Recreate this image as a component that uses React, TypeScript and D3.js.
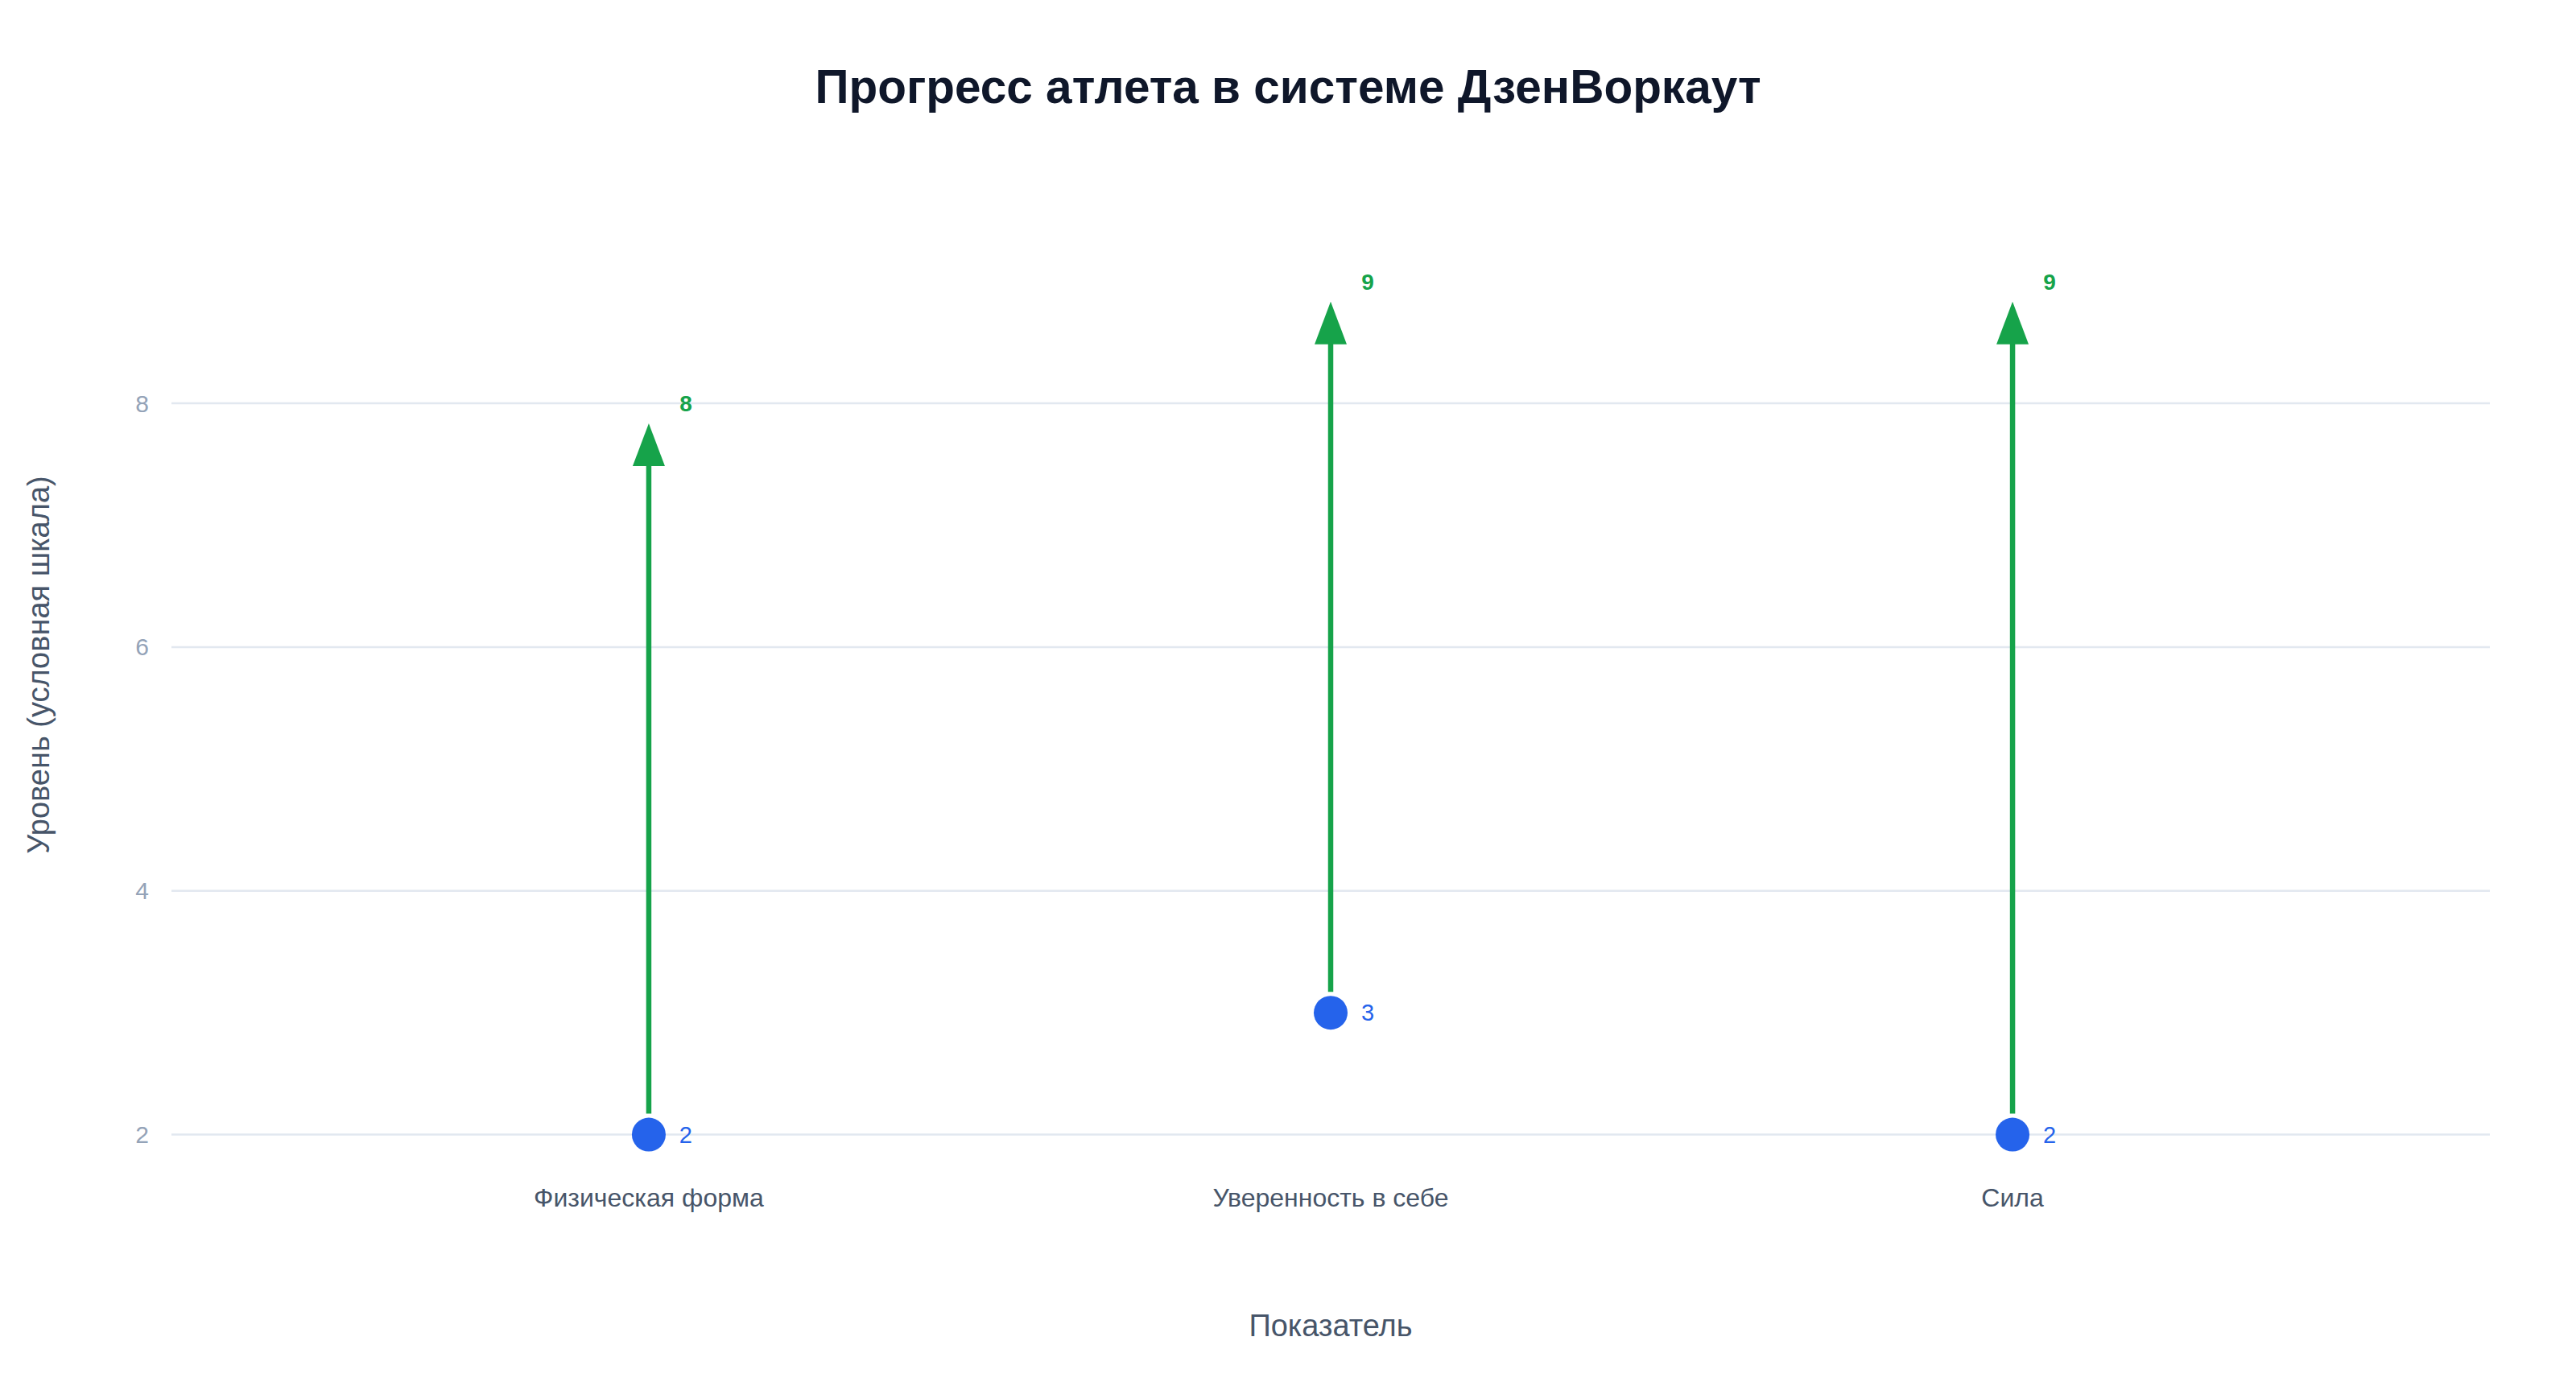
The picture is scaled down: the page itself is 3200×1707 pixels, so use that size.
import React, { useRef, useEffect } from 'react';
import * as d3 from 'd3';

// values
const categories = ['Физическая форма', 'Уверенность в себе', 'Сила'];
const startValues = [2, 3, 2];
const endValues = [8, 9, 9];
const yTicks = [2, 4, 6, 8];

const chartTitle = 'Прогресс атлета в системе ДзенВоркаут';
const xTitle = 'Показатель';
const yTitle = 'Уровень (условная шкала)';

const width = 3200;
const height = 1707;
const margin = { top: 274, bottom: 252, left: 213, right: 107 };
const font = '"Liberation Sans", Arial, sans-serif';

const App = () => {
  const svgRef = useRef(null);

  useEffect(() => {
    const svg = d3.select(svgRef.current);
    svg.selectAll('*').remove();

    const xScale = d3
      .scalePoint()
      .domain(categories)
      .range([margin.left, width - margin.right])
      .padding(0.7);

    const yScale = d3
      .scaleLinear()
      .domain([1.7, 9.5])
      .range([height - margin.bottom, margin.top]);

    // grid
    svg
      .append('g')
      .selectAll('line')
      .data(yTicks)
      .enter()
      .append('line')
      .attr('x1', margin.left)
      .attr('x2', width - margin.right)
      .attr('y1', (d) => yScale(d))
      .attr('y2', (d) => yScale(d))
      .attr('stroke', '#e2e8f0')
      .attr('stroke-width', 2.5);

    // y tick labels
    svg
      .append('g')
      .selectAll('text')
      .data(yTicks)
      .enter()
      .append('text')
      .attr('x', margin.left - 28)
      .attr('y', (d) => yScale(d))
      .attr('dy', '0.35em')
      .attr('text-anchor', 'end')
      .attr('font-family', font)
      .attr('font-size', 30)
      .attr('fill', '#94a3b8')
      .text((d) => d);

    // x tick labels
    svg
      .append('g')
      .selectAll('text')
      .data(categories)
      .enter()
      .append('text')
      .attr('x', (d) => xScale(d))
      .attr('y', 1499)
      .attr('text-anchor', 'middle')
      .attr('font-family', font)
      .attr('font-size', 32)
      .attr('fill', '#475569')
      .text((d) => d);

    const rows = categories.map((c, i) => ({ name: c, from: startValues[i], to: endValues[i] }));

    // arrows
    const headLen = 53;
    const headHalf = 20;
    const arrows = svg.append('g').selectAll('g').data(rows).enter().append('g');

    arrows
      .append('line')
      .attr('x1', (d) => xScale(d.name))
      .attr('x2', (d) => xScale(d.name))
      .attr('y1', (d) => yScale(d.from) - 26)
      .attr('y2', (d) => yScale(d.to) + 25 + headLen - 2)
      .attr('stroke', '#16a34a')
      .attr('stroke-width', 6.5);

    arrows
      .append('path')
      .attr('d', (d) => {
        const x = xScale(d.name);
        const tip = yScale(d.to) + 25;
        return `M${x},${tip}L${x + headHalf},${tip + headLen}L${x - headHalf},${tip + headLen}Z`;
      })
      .attr('fill', '#16a34a');

    arrows
      .append('text')
      .attr('x', (d) => xScale(d.name) + 46)
      .attr('y', (d) => yScale(d.to))
      .attr('dy', '0.35em')
      .attr('text-anchor', 'middle')
      .attr('font-family', font)
      .attr('font-size', 28)
      .attr('font-weight', 'bold')
      .attr('fill', '#16a34a')
      .text((d) => d.to);

    // start points
    arrows
      .append('circle')
      .attr('cx', (d) => xScale(d.name))
      .attr('cy', (d) => yScale(d.from))
      .attr('r', 21)
      .attr('fill', '#2563eb');

    arrows
      .append('text')
      .attr('x', (d) => xScale(d.name) + 46)
      .attr('y', (d) => yScale(d.from))
      .attr('dy', '0.35em')
      .attr('text-anchor', 'middle')
      .attr('font-family', font)
      .attr('font-size', 29)
      .attr('fill', '#2563eb')
      .text((d) => d.from);

    // titles
    svg
      .append('text')
      .attr('x', 1600)
      .attr('y', 128)
      .attr('text-anchor', 'middle')
      .attr('font-family', font)
      .attr('font-size', 58.5)
      .attr('font-weight', 'bold')
      .attr('fill', '#0f172a')
      .text(chartTitle);

    svg
      .append('text')
      .attr('x', xScale(categories[1]))
      .attr('y', 1660)
      .attr('text-anchor', 'middle')
      .attr('font-family', font)
      .attr('font-size', 38)
      .attr('fill', '#475569')
      .text(xTitle);

    svg
      .append('text')
      .attr('transform', 'translate(61, 826) rotate(-90)')
      .attr('text-anchor', 'middle')
      .attr('font-family', font)
      .attr('font-size', 38)
      .attr('fill', '#475569')
      .text(yTitle);
  }, []);

  return (
    <svg
      ref={svgRef}
      width={width}
      height={height}
      style={{ position: 'absolute', left: 0, top: 0, background: '#fff' }}
    />
  );
};

export default App;
